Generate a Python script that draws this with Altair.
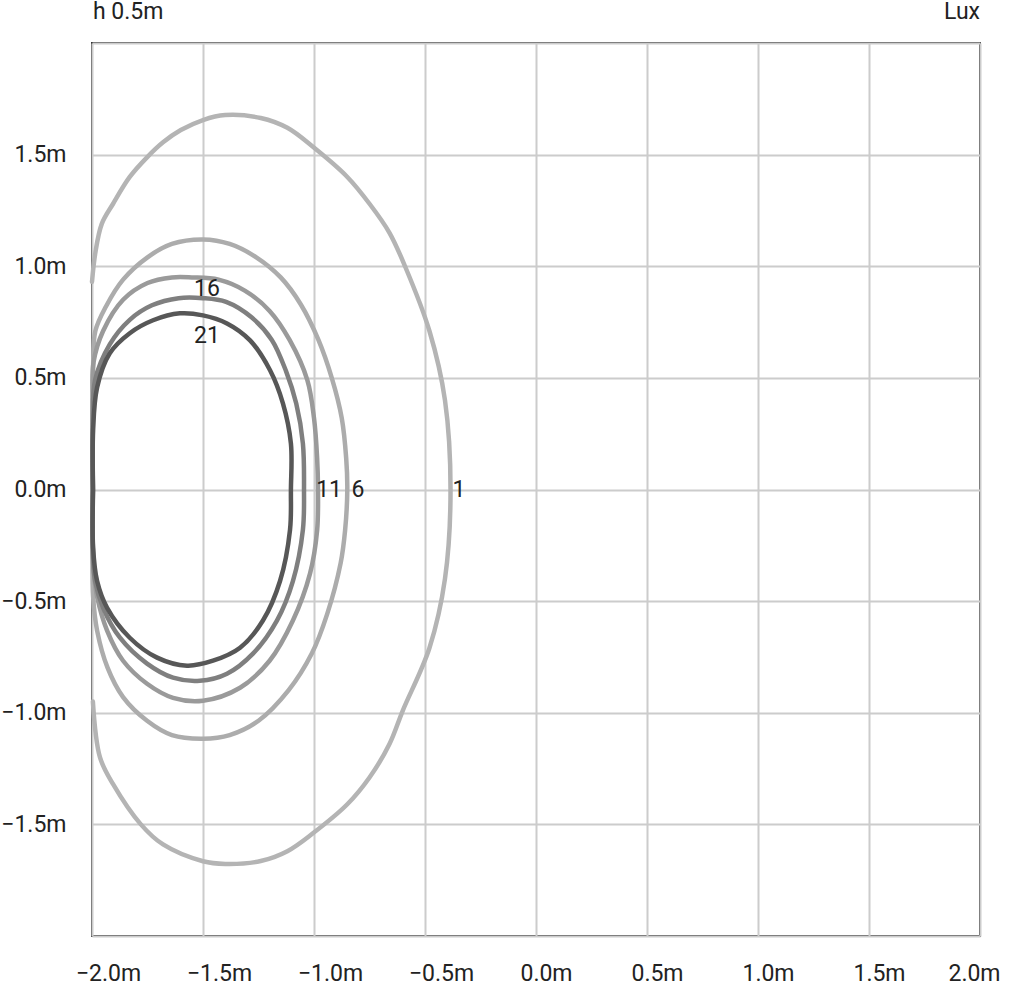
import altair as alt
import pandas as pd

# Iso-lux contour lines (x in m, y in m), traced from left edge clockwise
lux_levels = ["1", "6", "11", "16", "21"]

curve_1 = [(-2.0, 0.93), (-1.985, 1.06), (-1.956, 1.19), (-1.905, 1.28), (-1.83, 1.40),
           (-1.75, 1.49), (-1.68, 1.555), (-1.60, 1.61), (-1.50, 1.655), (-1.40, 1.677),
           (-1.24, 1.664), (-1.12, 1.62), (-1.005, 1.535), (-0.85, 1.40), (-0.75, 1.28),
           (-0.66, 1.15), (-0.59, 1.0), (-0.48, 0.71), (-0.41, 0.40), (-0.385, 0.0),
           (-0.41, -0.40), (-0.48, -0.71), (-0.60, -0.99), (-0.66, -1.14), (-0.75, -1.29),
           (-0.85, -1.41), (-1.005, -1.54), (-1.12, -1.62), (-1.24, -1.664), (-1.40, -1.677),
           (-1.50, -1.665), (-1.68, -1.59), (-1.78, -1.50), (-1.905, -1.32), (-1.964, -1.20),
           (-1.996, -0.95)]

curve_6 = [(-1.998, 0.0), (-1.998, 0.30), (-1.995, 0.55), (-1.985, 0.71), (-1.937, 0.82),
           (-1.86, 0.94), (-1.75, 1.04), (-1.64, 1.10), (-1.50, 1.12), (-1.38, 1.10),
           (-1.26, 1.04), (-1.15, 0.95), (-1.06, 0.83), (-0.98, 0.67), (-0.92, 0.50),
           (-0.875, 0.32), (-0.855, 0.14), (-0.85, 0.0), (-0.86, -0.184), (-0.88, -0.33),
           (-0.94, -0.556), (-1.01, -0.735), (-1.115, -0.90), (-1.25, -1.036), (-1.38, -1.10),
           (-1.50, -1.116), (-1.64, -1.10), (-1.752, -1.036), (-1.86, -0.93), (-1.93, -0.798),
           (-1.977, -0.632), (-1.995, -0.48), (-1.998, -0.25), (-1.998, 0.0)]

curve_11 = [(-1.997, 0.0), (-1.997, 0.40), (-1.993, 0.57), (-1.95, 0.71), (-1.86, 0.85),
            (-1.75, 0.925), (-1.64, 0.95), (-1.55, 0.95), (-1.43, 0.94), (-1.31, 0.89),
            (-1.20, 0.80), (-1.11, 0.67), (-1.03, 0.49), (-1.0, 0.32), (-0.986, 0.143),
            (-0.982, 0.0), (-0.986, -0.184), (-1.018, -0.377), (-1.095, -0.587), (-1.20, -0.767),
            (-1.333, -0.888), (-1.50, -0.946), (-1.635, -0.933), (-1.752, -0.87), (-1.86, -0.767),
            (-1.932, -0.632), (-1.977, -0.48), (-1.995, -0.33), (-1.997, 0.0)]

curve_16 = [(-1.996, 0.0), (-1.996, 0.30), (-1.986, 0.49), (-1.92, 0.65), (-1.83, 0.76),
            (-1.73, 0.825), (-1.61, 0.857), (-1.50, 0.857), (-1.396, 0.84), (-1.28, 0.77),
            (-1.19, 0.67), (-1.126, 0.53), (-1.08, 0.385), (-1.05, 0.206), (-1.045, 0.0),
            (-1.05, -0.18), (-1.095, -0.41), (-1.167, -0.587), (-1.275, -0.735), (-1.392, -0.825),
            (-1.514, -0.857), (-1.635, -0.843), (-1.752, -0.78), (-1.874, -0.664), (-1.95, -0.53),
            (-1.986, -0.41), (-1.996, -0.26), (-1.996, 0.0)]

curve_21 = [(-1.995, 0.0), (-1.995, 0.265), (-1.977, 0.457), (-1.92, 0.61), (-1.83, 0.70),
            (-1.725, 0.758), (-1.604, 0.789), (-1.50, 0.78), (-1.392, 0.744), (-1.288, 0.668),
            (-1.198, 0.534), (-1.14, 0.386), (-1.104, 0.206), (-1.104, 0.0), (-1.108, -0.18),
            (-1.153, -0.41), (-1.23, -0.587), (-1.333, -0.709), (-1.455, -0.767), (-1.572, -0.789),
            (-1.707, -0.753), (-1.83, -0.664), (-1.932, -0.53), (-1.977, -0.41), (-1.995, -0.26),
            (-1.995, 0.0)]

curve_colors = ["#b4b4b4", "#acacac", "#9a9a9a", "#7f7f7f", "#575757"]

# Contour value labels (text, x, y)
label_text = ["1", "6", "11", "16", "21"]
label_x = [-0.347, -0.802, -0.932, -1.482, -1.482]
label_y = [0.0, 0.0, 0.0, 0.897, 0.686]

tick_values = [-2.0, -1.5, -1.0, -0.5, 0.0, 0.5, 1.0, 1.5, 2.0]

rows = []
for name, pts in zip(lux_levels, [curve_1, curve_6, curve_11, curve_16, curve_21]):
    for i, (x, y) in enumerate(pts):
        rows.append({"lux": name, "i": i, "x": x, "y": y})
df = pd.DataFrame(rows)
labels_df = pd.DataFrame({"t": label_text, "x": label_x, "y": label_y})

FONT = "Roboto"
FS = 23
INK = "#222222"
label_expr = "(datum.value < 0 ? '\u2212' : '') + format(abs(datum.value), '.1f') + 'm'"

xscale = alt.Scale(domain=[-2, 2], nice=False, zero=False)
yscale = alt.Scale(domain=[-2, 2], nice=False, zero=False)

xaxis = alt.Axis(values=tick_values, labelExpr=label_expr, title=None, tickSize=0,
                 domain=False, grid=True, gridColor="#cccccc", gridWidth=2,
                 labelPadding=26, labelFontSize=FS, labelFont=FONT, labelColor=INK,
                 labelFlush=False, labelOverlap=False, labelBound=False,
                 labelOffset={"condition": [{"test": "datum.value < 0", "value": 16},
                                            {"test": "datum.value > 1.9", "value": -6}],
                              "value": 10})
yaxis = alt.Axis(values=tick_values,
                 labelExpr="abs(datum.value) > 1.9 ? '' : " + label_expr,
                 title=None, tickSize=0,
                 domain=False, grid=True, gridColor="#cccccc", gridWidth=2,
                 labelPadding=26, labelFontSize=FS, labelFont=FONT, labelColor=INK,
                 labelOverlap=False, labelFlush=False)

lines = alt.Chart(df).mark_line(strokeWidth=4.5, strokeJoin="round", strokeCap="round",
                                interpolate="catmull-rom").encode(
    x=alt.X("x:Q", scale=xscale, axis=xaxis),
    y=alt.Y("y:Q", scale=yscale, axis=yaxis),
    color=alt.Color("lux:N", scale=alt.Scale(domain=lux_levels, range=curve_colors), legend=None),
    order="i:Q",
)

texts = alt.Chart(labels_df).mark_text(fontSize=FS, font=FONT, color=INK,
                                       align="center", baseline="middle").encode(
    x=alt.X("x:Q", scale=xscale),
    y=alt.Y("y:Q", scale=yscale),
    text="t:N",
)

corner_df = pd.DataFrame({"t": ["h 0.5m"]})
left_title = alt.Chart(corner_df).mark_text(fontSize=FS, font=FONT, color=INK,
                                            align="left", baseline="alphabetic").encode(
    x=alt.value(1), y=alt.value(-24), text="t:N")
corner_df2 = pd.DataFrame({"t": ["Lux"]})
right_title = alt.Chart(corner_df2).mark_text(fontSize=FS, font=FONT, color=INK,
                                              align="right", baseline="alphabetic").encode(
    x=alt.value(888), y=alt.value(-24), text="t:N")

chart = alt.layer(lines, texts, left_title, right_title).properties(
    width=888, height=893,
    autosize=alt.AutoSizeParams(type="none"),
    padding={"left": 92, "top": 43, "right": 44, "bottom": 48},
    background="white",
).configure_view(stroke="#333333", strokeWidth=2)

chart.save("out.html", embed_options={"renderer": "svg", "actions": False})
